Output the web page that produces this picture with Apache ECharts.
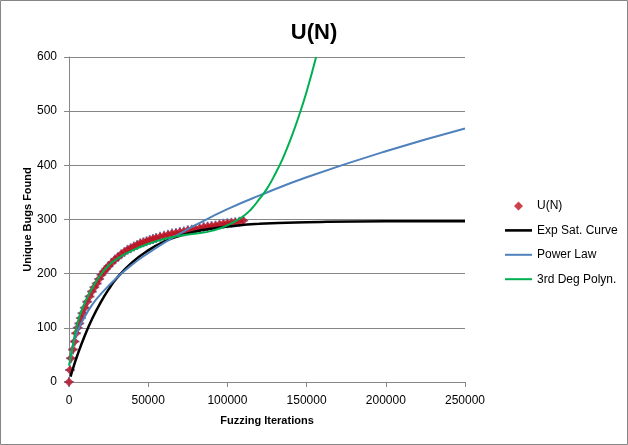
<!DOCTYPE html>
<html>
<head>
<meta charset="utf-8">
<script src="https://cdn.jsdelivr.net/npm/echarts@6/dist/echarts.min.js"></script>
<style>
html,body{margin:0;padding:0;background:#fff;}
#c{width:628px;height:445px;}
</style>
</head>
<body>
<div id="c"></div>
<script>
// Observed data U(N)
const dataN = [0,600,1200,2500,3500,4500,5500,6500,7500,8500,10000,11500,13000,14500,16000,17500,19000,20500,22000,23500,25000,27000,29000,31000,33000,35000,37000,39000,41000,43000,45000,47000,49000,51000,53000,55000,57500,60000,62500,65000,67500,70000,72500,75000,77500,80000,82500,85000,87500,90000,92500,95000,97500,100000,102500,105000,107500,110000];
const dataU = [0,22,44,60,75,90,100,108,118,127,137,148,158,167,175,182,190,198,204,209,214,220,226,231,236,240,244,247,250,253,256,258,260,262,264,266,268,270,272,274,275,277,278,280,281,282,284,286,287,288,289,291,292,293,294,295,296,298];

// Exponential saturation curve
const expN = [1000,2000,5000,10000,15000,20000,25000,30000,40000,50000,60000,70000,80000,90000,100000,120000,150000,200000,250000];
const expU = [10,20,47,86,119,147,171,191,221,243,259,270,278,283,287,292,295,297,297];

// Power law curve
const powN = [500,1000,2000,5000,10000,15000,20000,30000,40000,50000,60000,70000,80000,100000,120000,150000,200000,250000];
const powU = [34,46,62,91,121,144,162,192,217,238,257,274,290,319,344,378,426,468];

// 3rd degree polynomial curve
const polN = [0,2000,5000,8700,15000,20000,25000,30000,40000,50000,60000,70000,80000,90000,100000,110000,115000,120000,125000,130000,135000,140000,145000,150000,156000];
const polU = [30,60,105,138,175,198,215,227,243,255,264,270,274,279,289,306,319,337,357,383,413,449,490,536,600];

// Axis ticks
const xTicks = {min:0, max:250000, step:50000};
const yTicks = {min:0, max:600, step:100};

const pairs = (a,b) => a.map((v,i)=>[v,b[i]]);
const FONT = 'Liberation Sans, Arial, sans-serif';
const chart = echarts.init(document.getElementById('c'), null, {renderer:'canvas'});
const plus = 'path://M4,0 L6,0 L6,4 L10,4 L10,6 L6,6 L6,10 L4,10 L4,6 L0,6 L0,4 L4,4 Z';
const diamondIcon = 'path://M0,5 L0,5 M9,5 L13.5,0.5 L18,5 L13.5,9.5 Z M27,0 L27,10';
const lineIcon = 'path://M0,0 L0,0 M0,4 L27,4 L27,6 L0,6 Z M27,10 L27,10';
const lineIconThick = 'path://M0,0 L0,0 M0,3.7 L27,3.7 L27,6.3 L0,6.3 Z M27,10 L27,10';

chart.setOption({
  animation:false,
  backgroundColor:'#fff',
  textStyle:{fontFamily:FONT},
  title:{text:'U(N)', left:'center', top:17, textStyle:{fontFamily:FONT, fontSize:22, fontWeight:'bold', color:'#000'}},
  graphic:[{type:'rect', shape:{x:0.5,y:0.5,width:627,height:444}, style:{fill:'none', stroke:'#868686', lineWidth:1}, silent:true, z:-1}],
  grid:{left:69, right:163, top:57, bottom:63},
  legend:{
    orient:'vertical', left:500, top:194, itemWidth:27, itemHeight:10, itemGap:10.4,
    itemStyle:{borderWidth:0},
    textStyle:{fontFamily:FONT, fontSize:12, color:'#000', lineHeight:14},
    data:[
      {name:'U(N)', icon:diamondIcon},
      {name:'Exp Sat. Curve', icon:lineIconThick},
      {name:'Power Law', icon:lineIcon},
      {name:'3rd Deg Polyn.', icon:lineIcon}
    ]
  },
  xAxis:{
    type:'value', min:xTicks.min, max:xTicks.max, interval:xTicks.step,
    name:'Fuzzing Iterations', nameLocation:'middle', nameGap:33, nameMoveOverlap:false,
    nameTextStyle:{fontFamily:FONT, fontSize:11, fontWeight:'bold', color:'#000'},
    axisLine:{lineStyle:{color:'#868686', width:1}},
    axisTick:{show:true, length:5, lineStyle:{color:'#868686'}},
    axisLabel:{fontFamily:FONT, fontSize:12, color:'#000', margin:13, formatter:(v)=>String(v)},
    splitLine:{show:false}
  },
  yAxis:{
    type:'value', min:yTicks.min, max:yTicks.max, interval:yTicks.step,
    name:'Unique Bugs Found', nameLocation:'middle', nameGap:36, nameMoveOverlap:false,
    nameTextStyle:{fontFamily:FONT, fontSize:11, fontWeight:'bold', color:'#000'},
    axisLine:{show:true, lineStyle:{color:'#868686', width:1}},
    axisTick:{show:true, length:5, lineStyle:{color:'#868686'}},
    axisLabel:{fontFamily:FONT, fontSize:12, color:'#000', margin:12, formatter:(v)=>String(v)},
    splitLine:{show:true, lineStyle:{color:'#868686', width:1}}
  },
  series:[
    {name:'U(N) marks', type:'scatter', data:pairs(dataN,dataU), symbol:plus, symbolSize:10,
     itemStyle:{color:'#6F86C4', opacity:0.9}, z:2},
    {name:'U(N)', type:'scatter', data:pairs(dataN,dataU), symbol:'diamond', symbolSize:9,
     itemStyle:{color:'#C0121E'}, z:3},
    {name:'Exp Sat. Curve', type:'line', data:pairs(expN,expU), smooth:true, symbol:'none',
     lineStyle:{color:'#000', width:2.5}, itemStyle:{color:'#000'}, z:4},
    {name:'Power Law', type:'line', data:pairs(powN,powU), smooth:true, symbol:'none',
     lineStyle:{color:'#4F81BD', width:2}, itemStyle:{color:'#4F81BD'}, z:5},
    {name:'3rd Deg Polyn.', type:'line', data:pairs(polN,polU), smooth:true, symbol:'none',
     lineStyle:{color:'#00B050', width:2}, itemStyle:{color:'#00B050'}, z:6}
  ]
});
</script>
</body>
</html>
